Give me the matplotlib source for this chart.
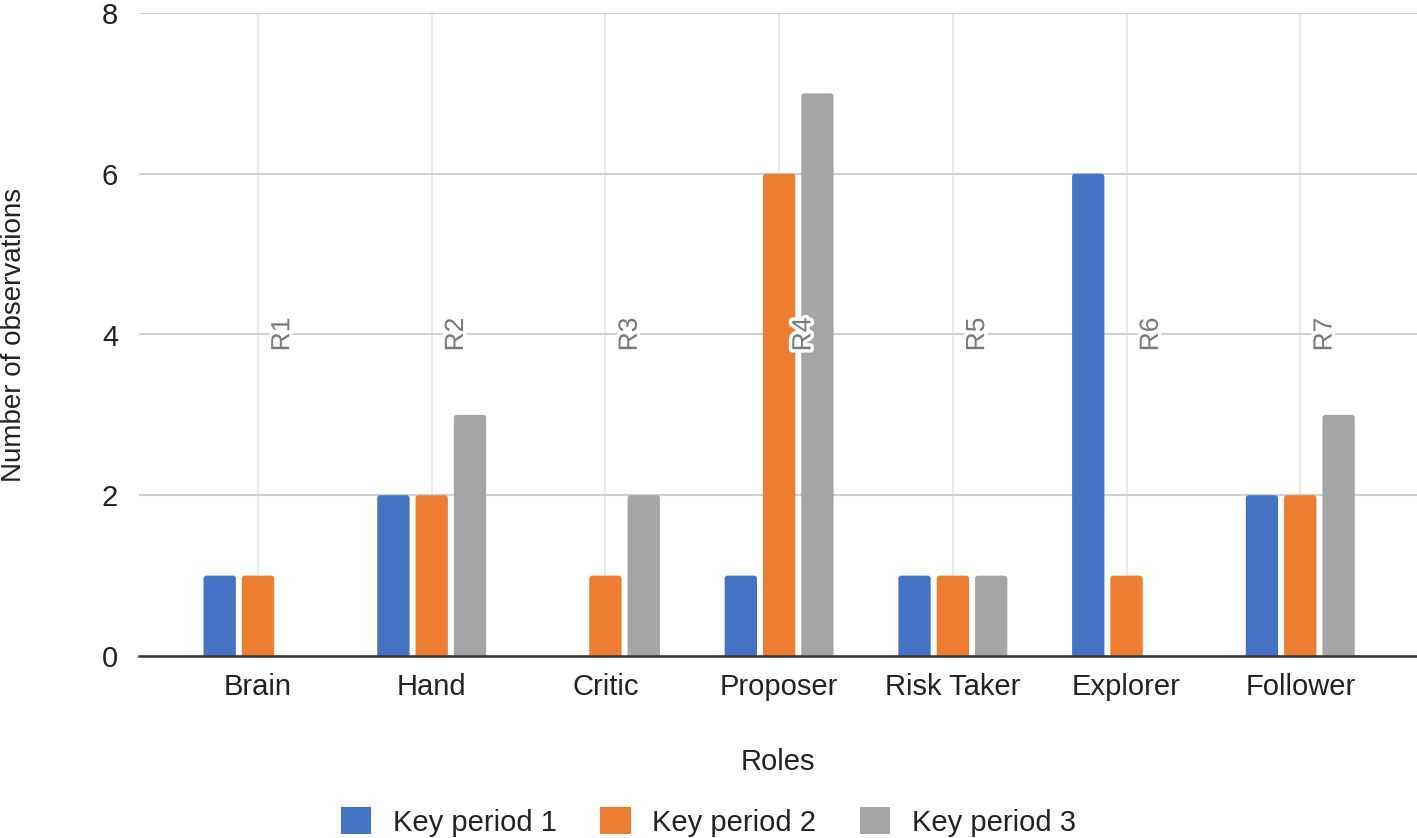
import matplotlib
matplotlib.use("Agg")
import matplotlib.pyplot as plt
import matplotlib.patheffects as pe
from matplotlib.patches import FancyBboxPatch, Patch
import numpy as np

plt.rcParams['font.family'] = ['Liberation Sans', 'DejaVu Sans']

# --- data ---
roles = ["Brain", "Hand", "Critic", "Proposer", "Risk Taker", "Explorer", "Follower"]
role_codes = ["R1", "R2", "R3", "R4", "R5", "R6", "R7"]
key_period_1 = [1, 2, 0, 1, 1, 6, 2]
key_period_2 = [1, 2, 1, 6, 1, 1, 2]
key_period_3 = [0, 3, 2, 7, 1, 0, 3]
code_level = 4
series_names = ["Key period 1", "Key period 2", "Key period 3"]
y_ticks = [0, 2, 4, 6, 8]

colors = ["#4472C4", "#ED7D31", "#A5A5A5"]

W, H = 1417, 838
fig = plt.figure(figsize=(W / 100, H / 100), dpi=100)
ax = fig.add_axes([139 / W, 1 - 656 / H, 1 - 139 / W, (656 - 13) / H])

x = np.arange(len(roles))
step = 0.2205
width = 0.186
radius = 0.0173
aspect = 2.16
for i, (vals, c) in enumerate(zip([key_period_1, key_period_2, key_period_3], colors)):
    for xi, v in zip(x, vals):
        if v <= 0:
            continue
        # bar with slightly rounded top; bottom sits below the axis and is clipped
        ax.add_patch(FancyBboxPatch((xi + (i - 1) * step - width / 2, -0.2), width, v + 0.2,
                                    boxstyle=f"round,pad=0,rounding_size={radius}",
                                    mutation_aspect=aspect, facecolor=c, edgecolor='none',
                                    zorder=3))

# role codes in grey, rotated, with white halo
for xi, code in zip(x, role_codes):
    ax.text(xi + 0.14, code_level, code, rotation=90, ha='center', va='center',
            fontsize=19, color='#7a7a7a', zorder=5,
            path_effects=[pe.withStroke(linewidth=5, foreground='white')])

ax.set_xlim(-0.685, 6.672)
ax.set_ylim(0, 8)
ax.set_xticks(x)
ax.set_xticklabels(roles, fontsize=21, color='#222222')
ax.set_yticks(y_ticks)
ax.set_yticklabels([str(t) for t in y_ticks], fontsize=21, color='#222222')
ax.tick_params(axis='both', length=0)
ax.tick_params(axis='x', pad=12)
ax.tick_params(axis='y', pad=15)

ax.grid(axis='y', color='#d0d0d0', linewidth=1.5, zorder=0)
ax.grid(axis='x', color='#e6e6e6', linewidth=1.2, zorder=0)
ax.set_axisbelow(True)
for s in ['top', 'right', 'left']:
    ax.spines[s].set_visible(False)
ax.spines['bottom'].set_color('#333333')
ax.spines['bottom'].set_linewidth(1.8)
ax.spines['bottom'].set_zorder(4)

fig.text((139 + W) / 2 / W, 1 - 762 / H, "Roles", ha='center', va='center',
         fontsize=21, color='#222222')
fig.text(14 / W, 1 - 335 / H, "Number of observations", ha='center', va='center',
         rotation=90, fontsize=20, color='#222222')

handles = [Patch(facecolor=c, edgecolor='none') for c in colors]
fig.legend(handles, series_names, loc='center', bbox_to_anchor=(0.5, 1 - 822 / H), ncol=3,
           frameon=False, fontsize=21, handlelength=1.03, handleheight=1.03,
           handletextpad=0.75, columnspacing=1.5, borderpad=0, labelcolor='#222222')

fig.savefig("out.png", dpi=100)
